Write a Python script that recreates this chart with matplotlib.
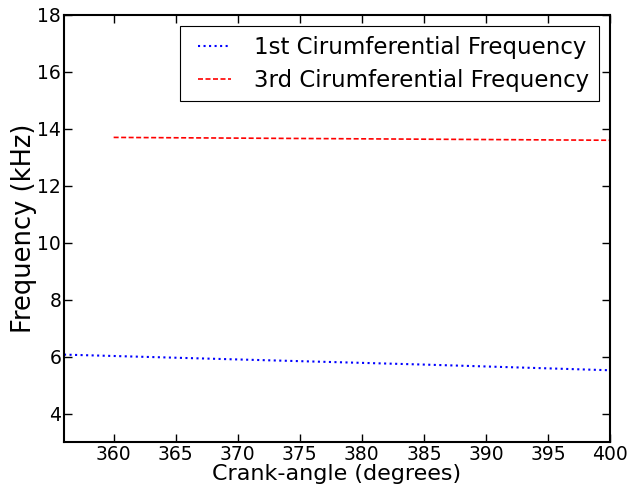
import matplotlib
matplotlib.use("Agg")
import matplotlib.pyplot as plt
from matplotlib.legend_handler import HandlerLine2D

crank_1st = [356, 370, 385, 400]
freq_1st = [6.07, 5.90, 5.72, 5.52]
crank_3rd = [360, 380, 400]
freq_3rd = [13.70, 13.65, 13.60]

fig = plt.figure(figsize=(6.3, 4.87), dpi=100)
ax = fig.add_axes([0.1016, 0.0924, 0.8667, 0.8768])
l1, = ax.plot(crank_1st, freq_1st, color='blue', linestyle=':', linewidth=1.5,
              label='1st Cirumferential Frequency')
l2, = ax.plot(crank_3rd, freq_3rd, color='red', linestyle=(0, (3, 1.5)), linewidth=1.2,
              label='3rd Cirumferential Frequency')
ax.set_xlim(356, 400)
ax.set_ylim(3, 18)
ax.set_xticks(range(360, 401, 5))
ax.set_yticks(range(4, 19, 2))
ax.tick_params(direction='in', top=True, right=True, labelsize=13.5, length=6, width=1)
ax.tick_params(axis='x', pad=2.5)
ax.tick_params(axis='y', pad=2)
for s in ax.spines.values():
    s.set_linewidth(1.5)
ax.set_xlabel('Crank-angle (degrees)', fontsize=16, labelpad=0)
ax.set_ylabel('Frequency (kHz)', fontsize=18.5, labelpad=0)
hmap = {l1: HandlerLine2D(xpad=0.4), l2: HandlerLine2D(xpad=0.4)}
leg = ax.legend(loc='upper right', fontsize=16.5, fancybox=False, edgecolor='black',
                framealpha=1, borderaxespad=0.5, handlelength=1.85, handletextpad=1.0,
                labelspacing=0.45, handler_map=hmap)
leg.get_frame().set_linewidth(0.8)
fig.savefig('out.png', dpi=100)
